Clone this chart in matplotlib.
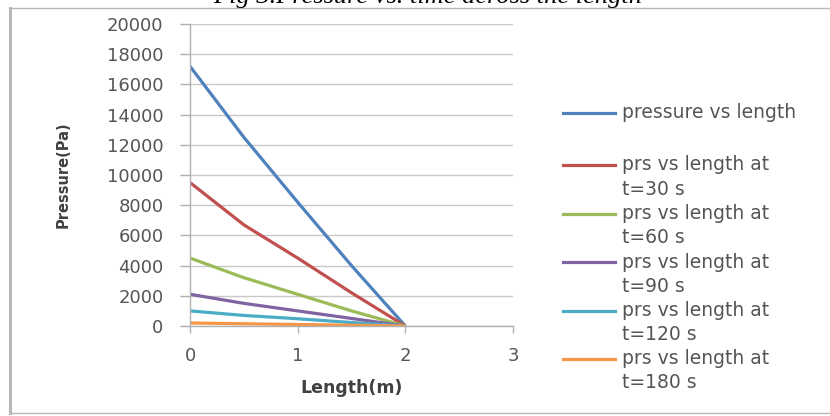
import matplotlib
matplotlib.use("Agg")
import matplotlib.pyplot as plt
from matplotlib.lines import Line2D

# pressure profiles along the pipe length
length = [0, 0.5, 1, 1.5, 2]
p_steady = [17200, 12500, 8200, 4000, 0]
p_30 = [9500, 6700, 4500, 2200, 0]
p_60 = [4500, 3200, 2100, 1000, 0]
p_90 = [2100, 1500, 1000, 500, 0]
p_120 = [1000, 700, 480, 230, 0]
p_180 = [200, 150, 100, 50, 0]

labels = ["pressure vs length",
          "prs vs length at\nt=30 s",
          "prs vs length at\nt=60 s",
          "prs vs length at\nt=90 s",
          "prs vs length at\nt=120 s",
          "prs vs length at\nt=180 s"]
colors = ["#4F81BD", "#C0504D", "#9BBB59", "#8064A2", "#4BACC6", "#F79646"]

W, H = 830, 416
fig = plt.figure(figsize=(W / 100, H / 100), dpi=100)
ax = fig.add_axes([190 / W, 90 / H, 323 / W, 302 / H])

series = [p_steady, p_30, p_60, p_90, p_120, p_180]
for vals, c in zip(series, colors):
    ax.plot(length, vals, color=c, lw=2.3, solid_capstyle="butt")

ax.set_xlim(0, 3)
ax.set_ylim(0, 20000)
ax.set_xticks([0, 1, 2, 3])
ax.set_yticks(range(0, 20001, 2000))
ax.grid(axis="y", color="#c8c8c8", lw=1.0)
ax.set_axisbelow(True)
for s in ["top", "right"]:
    ax.spines[s].set_visible(False)
for s in ["left", "bottom"]:
    ax.spines[s].set_color("#b0b0b0")
    ax.spines[s].set_linewidth(1.0)
ax.tick_params(axis="both", colors="#b0b0b0", labelcolor="#555555",
               labelsize=13, width=1.0)
ax.tick_params(axis="x", length=5, pad=10)
ax.tick_params(axis="y", length=7, pad=12)

ax.set_xlabel("Length(m)", fontsize=12.5, fontweight="bold", color="#404040", labelpad=10)
ax.set_ylabel("Pressure(Pa)", fontsize=10.5, fontweight="bold", color="#404040", labelpad=26)

# legend: handle sits level with the first line of each entry
first_y = [113, 165, 213.5, 262, 310.5, 359]
for lab, c, y in zip(labels, colors, first_y):
    fig.add_artist(Line2D([563 / W, 615 / W], [1 - y / H, 1 - y / H],
                          transform=fig.transFigure, color=c, lw=2.3))
    for k, line in enumerate(lab.split("\n")):
        fig.text(622 / W, 1 - (y + 24 * k) / H, line, ha="left", va="center",
                 fontsize=13.5, color="#555555")

# outer frame of the chart area
frame = dict(transform=fig.transFigure, color="#b8b8b8")
fig.add_artist(Line2D([10 / W, 10 / W], [1 - 8 / H, 1 - 413 / H], lw=2.2, **frame))
fig.add_artist(Line2D([10 / W, 1], [1 - 8 / H, 1 - 8 / H], lw=1.0, **frame))
fig.add_artist(Line2D([10 / W, 1], [1 - 413 / H, 1 - 413 / H], lw=1.0, **frame))

fig.text(428 / W, 1 - 3 / H, "Fig 3.Pressure vs. time across the length",
         ha="center", va="baseline", fontsize=19, style="italic",
         family="Liberation Serif", color="black")

fig.savefig("out.png", dpi=100, facecolor="white")
